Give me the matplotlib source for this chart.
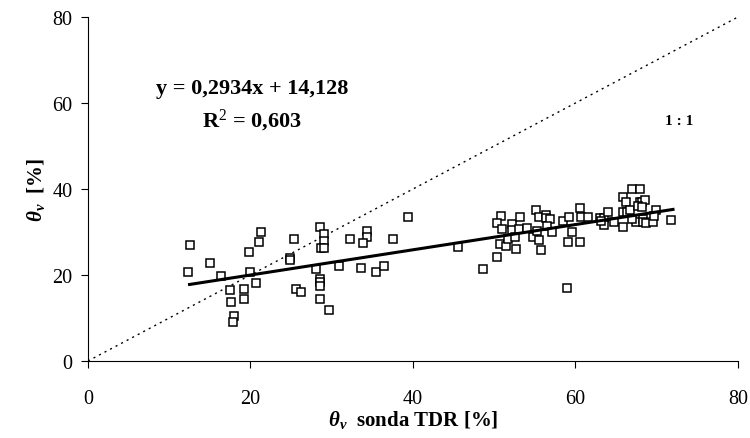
import numpy as np
import matplotlib
matplotlib.use("Agg")
import matplotlib.pyplot as plt

plt.rcParams["font.family"] = ["Liberation Serif", "DejaVu Serif"]
plt.rcParams["mathtext.fontset"] = "custom"
plt.rcParams["mathtext.rm"] = "Liberation Serif"
plt.rcParams["mathtext.it"] = "Liberation Serif:italic"
plt.rcParams["mathtext.bf"] = "Liberation Serif:bold:italic"

# TDR probe reading vs reference water content
tdr = [12.55, 12.35, 15.0, 16.4, 17.5, 17.6, 18.0, 17.8, 19.2, 19.2, 19.9, 20.7,
       19.8, 21.0, 21.3, 25.3, 24.9, 24.9, 25.6, 26.2, 28.5, 29.0, 29.0, 28.7,
       29.1, 28.1, 28.5, 28.5, 28.5, 28.5, 29.7, 30.9, 32.2, 33.6, 34.3, 34.3,
       33.9, 35.5, 36.4, 37.5, 39.4,
       45.6, 48.6, 50.4, 50.8, 50.4, 51.0, 50.7, 51.5, 51.7, 52.2, 52.2, 52.7,
       52.5, 53.2, 53.1, 54.0, 55.2, 55.5, 56.4, 56.4, 56.9, 54.8, 55.3, 55.5,
       55.7, 56.5, 57.1, 58.5, 59.2, 59.6, 59.1, 60.5, 58.9, 60.5, 60.7, 61.6,
       63.0, 63.5, 63.5, 64.0, 63.2, 64.7, 65.8, 66.2, 65.8, 66.3, 66.7, 65.9,
       67.0, 67.9, 67.9, 68.2, 68.5, 67.7, 68.2, 67.4, 67.4, 68.3, 68.3, 68.7,
       69.5, 69.9, 69.7, 71.8, 66.9]
theta = [27.0, 20.8, 22.8, 19.8, 16.4, 13.8, 10.5, 9.0, 16.7, 14.4, 20.8, 18.1,
         25.4, 27.7, 30.1, 28.4, 24.0, 23.6, 16.7, 16.0, 31.1, 29.5, 28.0, 26.3,
         26.3, 21.4, 19.1, 18.3, 17.5, 14.4, 11.8, 22.0, 28.4, 21.7, 30.3, 28.8,
         27.4, 20.7, 22.0, 28.4, 33.4,
         26.4, 21.4, 24.3, 33.7, 32.1, 30.8, 27.1, 26.7, 28.4, 31.9, 30.5, 26.1,
         28.8, 33.5, 30.7, 30.9, 35.2, 33.4, 34.0, 33.2, 33.0, 28.8, 30.3, 28.1,
         25.8, 31.5, 30.1, 32.5, 33.4, 30.1, 27.7, 27.7, 17.0, 35.5, 33.6, 33.6,
         33.2, 33.2, 31.6, 34.6, 32.6, 32.4, 38.1, 36.9, 34.7, 34.7, 35.0, 31.1,
         40.1, 40.1, 36.9, 36.9, 37.5, 36.1, 35.7, 33.0, 32.4, 33.0, 32.3, 32.0,
         32.4, 35.2, 33.8, 32.8, 33.0]

slope = 0.2934
intercept = 14.128
fit_range = [12.5, 72.0]
one_to_one = [0, 80]

fig = plt.figure(figsize=(7.5, 4.39), dpi=100)
ax = fig.add_axes([0.1173, 0.1754, 0.8667, 0.7836])

ax.plot(one_to_one, one_to_one, color="black", linestyle=(0, (1.5, 3)), linewidth=1.0)
ax.plot(tdr, theta, linestyle="none", marker="s", markersize=5.6,
        markerfacecolor="white", markeredgecolor="black", markeredgewidth=1.1)
xf = np.array(fit_range)
ax.plot(xf, slope * xf + intercept, color="black", linewidth=2.2)

ax.set_xlim(0, 80)
ax.set_ylim(0, 80)
ax.set_xticks([0, 20, 40, 60, 80])
ax.set_yticks([0, 20, 40, 60, 80])
ax.spines["top"].set_visible(False)
ax.spines["right"].set_visible(False)
ax.tick_params(axis="x", direction="out", length=5, labelsize=14.5, pad=15)
ax.tick_params(axis="y", direction="out", length=5, labelsize=14.5, pad=6)

ax.set_xlabel(r"$\mathbf{\theta}_{\mathbf{v}}$  sonda TDR [%]", fontsize=15,
              fontweight="bold", labelpad=0)
ax.set_ylabel(r"$\mathbf{\theta}_{\mathbf{v}}$  [%]", fontsize=15,
              fontweight="bold", labelpad=4)

ax.text(20.2, 63.5, "y = 0,2934x + 14,128", fontsize=16, fontweight="bold",
        ha="center", va="center")
ax.text(20.2, 56.0, "R$^{\\mathrm{2}}$ = 0,603", fontsize=16, fontweight="bold",
        ha="center", va="center")
ax.text(72.8, 56.0, "1 : 1", fontsize=11, fontweight="bold", ha="center", va="center")

fig.savefig("out.png", dpi=100)
